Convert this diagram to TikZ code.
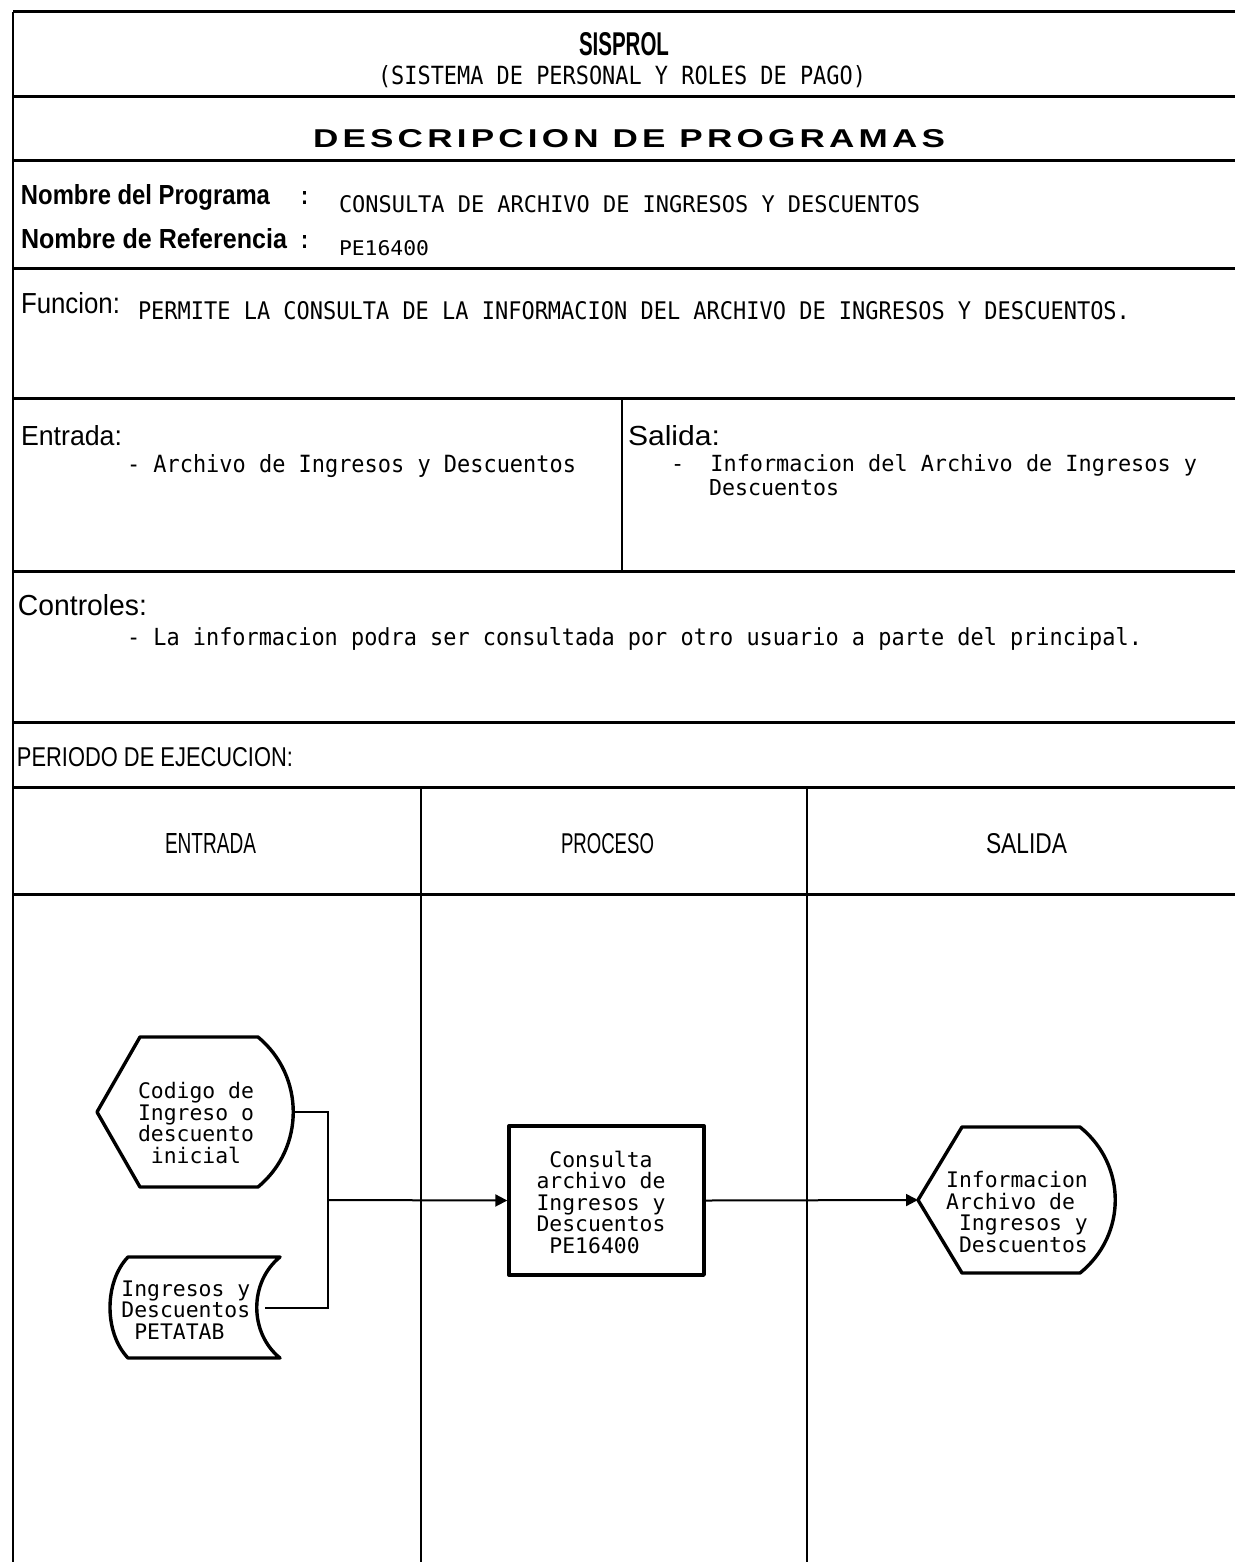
\documentclass[tikz,border=0pt]{standalone}
\usepackage{fontspec}
\usepackage{graphicx}
\usetikzlibrary{arrows.meta}
\newfontfamily\hdr{Liberation Sans}
\newfontfamily\mono{DejaVu Sans Mono}
\newfontfamily\spc[LetterSpace=12]{Liberation Sans}
\newdimen\pxu \pxu=0.5pt
\newcommand\fx[3]{\resizebox{#1\pxu}{#2\pxu}{#3}}
\begin{document}
\begin{tikzpicture}[x=0.5pt,y=-0.5pt,
  txt/.style={anchor=base west,inner sep=0pt,outer sep=0pt},
  hline/.style={line width=1.5pt},
  vline/.style={line width=0.8pt},
  shp/.style={line width=1.7pt,line join=round},
  conn/.style={line width=1pt},
  arr/.style={conn,-{Triangle[length=6pt,width=6pt]}},
  ftext/.style={font=\mono\fontsize{10.7pt}{10.75pt}\selectfont,inner sep=0pt},
]
\fill[white] (0,0) rectangle (1235,1562);
\useasboundingbox (0,0) rectangle (1235,1562);

% frame
\draw[vline] (13,12) -- (13,1562);
\foreach \y in {12,97,161,268,398,571,722,787,894} \draw[hline] (13,\y) -- (1235,\y);
\draw[vline] (622,398) -- (622,571);
\draw[vline] (421,787) -- (421,1562);
\draw[vline] (807,787) -- (807,1562);

% header texts
\node[txt] (sis) at (579,56) {\fx{90}{23}{\hdr\bfseries SISPROL}};
\node[txt] (sub) at (378,85) {\fx{488}{19}{\mono (SISTEMA DE PERSONAL Y ROLES DE PAGO)}};
\node[txt] (desc) at (313,148) {\fx{632}{18}{\spc\bfseries DESCRIPCION DE PROGRAMAS}};
\node[txt] (nprog) at (21,205) {\fx{249}{20}{\hdr\bfseries Nombre del Programa}};
\node[txt] (c1) at (301,205) {\fx{7}{13}{\hdr\bfseries :}};
\node[txt] (vprog) at (339,213) {\fx{581}{17}{\mono CONSULTA DE ARCHIVO DE INGRESOS Y DESCUENTOS}};
\node[txt] (nref) at (21,248) {\fx{266}{20}{\hdr\bfseries Nombre de Referencia}};
\node[txt] (c2) at (301,248) {\fx{7}{13}{\hdr\bfseries :}};
\node[txt] (vref) at (339,256) {\fx{90}{15}{\mono PE16400}};

\node[txt] (fun) at (21,313) {\fx{99}{21}{\hdr Funcion:}};
\node[txt] (funv) at (138,320) {\fx{992}{18}{\mono PERMITE LA CONSULTA DE LA INFORMACION DEL ARCHIVO DE INGRESOS Y DESCUENTOS.}};
\node[txt] (ent) at (21,445) {\fx{101}{20}{\hdr Entrada:}};
\node[txt] (entv) at (127,472) {\fx{449}{18}{\mono - Archivo de Ingresos y Descuentos}};
\node[txt] (sal) at (628,445) {\fx{92}{20}{\hdr Salida:}};
\node[txt] (salv) at (671,471) {\fx{526}{17}{\mono -\ \ Informacion del Archivo de Ingresos y}};
\node[txt] (salv2) at (709,495) {\fx{130}{16}{\mono Descuentos}};
\node[txt] (ctl) at (18,615) {\fx{129}{21}{\hdr Controles:}};
\node[txt] (ctlv) at (127,645) {\fx{1015}{18}{\mono - La informacion podra ser consultada por otro usuario a parte del principal.}};
\node[txt] (per) at (17,766) {\fx{276}{19}{\hdr PERIODO DE EJECUCION:}};
\node[txt] (hE) at (165,853) {\fx{91}{20}{\hdr ENTRADA}};
\node[txt] (hP) at (561,853) {\fx{93}{20}{\hdr PROCESO}};
\node[txt] (hS) at (986,853) {\fx{81}{20}{\hdr SALIDA}};

% input display shape
\draw[shp] (97,1112) -- (140,1037) -- (258,1037) .. controls (305,1076) and (305,1148) .. (258,1187) -- (140,1187) -- cycle;
\coordinate (codE) at (293,1112);
\node[ftext,align=center] (cod) at (196,1123) {Codigo de\\Ingreso o\\descuento\\inicial};

% stored data shape
\draw[shp] (128,1257) -- (280,1257) .. controls (249,1282) and (249,1333) .. (280,1358) -- (128,1358) .. controls (104,1333) and (104,1282) .. (128,1257) -- cycle;
\coordinate (storE) at (265,1308);
\node[ftext,align=left,anchor=west] (stor) at (121,1310) {Ingresos y\\Descuentos\\\hphantom{P}PETATAB};

% process box
\node[draw,shp,minimum width=97.5pt,minimum height=74.5pt,inner sep=0pt] (proc) at (606.5,1200.5) {};
\node[ftext,align=left] (proct) at (601,1202) {\hphantom{C}Consulta\\archivo de\\Ingresos y\\Descuentos\\\hphantom{C}PE16400};

% output display shape
\draw[shp] (918,1200) -- (962,1127) -- (1080,1127) .. controls (1127,1165) and (1127,1235) .. (1080,1273) -- (962,1273) -- cycle;
\coordinate (outW) at (918,1200);
\node[ftext,align=left] (outt) at (1017,1212) {Informacion\\Archivo de\\\hphantom{I}Ingresos y\\\hphantom{I}Descuentos};

% connectors
\coordinate (jn) at (328,1200);
\draw[conn] (codE) -| (jn);
\draw[conn] (storE) -| (jn);
\draw[arr] (jn) -- (proc.west);
\draw[arr] (proc.east) -- (outW);
\end{tikzpicture}
\end{document}
